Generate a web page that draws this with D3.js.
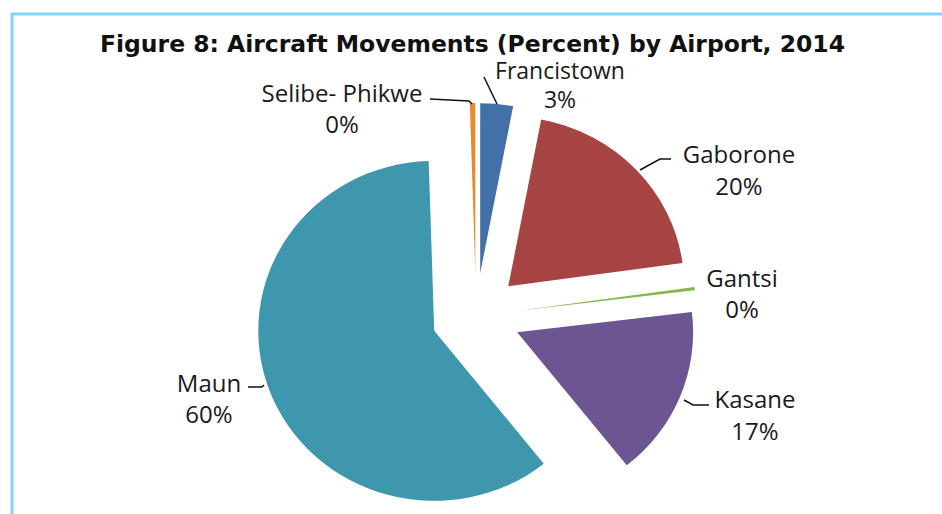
<!DOCTYPE html>
<html>
<head>
<meta charset="utf-8">
<script src="https://cdn.jsdelivr.net/npm/d3@7"></script>
<style>
  html, body { margin: 0; padding: 0; background: #fff; }
  svg { display: block; }
</style>
</head>
<body>
<svg id="chart" width="942" height="514"></svg>
<script>
// ---- data ----
const airports = ["Francistown", "Gaborone", "Gantsi", "Kasane", "Maun", "Selibe- Phikwe"];
const shares   = [3.0, 19.8, 0.3, 16.2, 60.2, 0.5];
const pctLabels = ["3%", "20%", "0%", "17%", "60%", "0%"];
const colors   = ["#4470aa", "#a54442", "#86b84a", "#6d5592", "#3e97ad", "#e98a2f"];
const title = "Figure 8: Aircraft Movements (Percent) by Airport, 2014";

// ---- layout (not data) ----
const W = 942, H = 514;
const cx = 476, cy = 316, R = 170, explode = 43, sx = 1.035;
const labelLayout = {
  "Francistown":    {x: 560, y: 79,  gap: 29, size: 23},
  "Gaborone":       {x: 739, y: 163, gap: 32, size: 24},
  "Gantsi":         {x: 742, y: 287, gap: 31, size: 24},
  "Kasane":         {x: 755, y: 408, gap: 32, size: 24},
  "Maun":           {x: 209, y: 392, gap: 31, size: 24},
  "Selibe- Phikwe": {x: 342, y: 102, gap: 31, size: 24}
};
const leaders = {
  "Francistown":    [[484, 77], [497, 104]],
  "Gaborone":       [[640, 170], [660, 159], [671, 159]],
  "Kasane":         [[684, 400], [693, 405], [709, 405]],
  "Maun":           [[248, 387], [262, 387], [264, 385]],
  "Selibe- Phikwe": [[430, 99], [469, 101], [472, 104]]
};

const svg = d3.select("#chart");
svg.append("rect").attr("width", W).attr("height", H).attr("fill", "#fff");

// frame
svg.append("path")
  .attr("d", `M12,${H} L12,14 L${W},14`)
  .attr("fill", "none").attr("stroke", "#7fd3f3").attr("stroke-width", 3);

// title
svg.append("text")
  .attr("x", 100).attr("y", 52)
  .attr("textLength", 745).attr("lengthAdjust", "spacingAndGlyphs")
  .attr("font-family", "'DejaVu Sans', sans-serif")
  .attr("font-weight", "bold").attr("font-size", 23)
  .attr("fill", "#111")
  .text(title);

// pie
const data = airports.map((a, i) => ({name: a, value: shares[i], pct: pctLabels[i], color: colors[i]}));
const pie = d3.pie().sort(null).value(d => d.value).startAngle(0).endAngle(2 * Math.PI);
const arc = d3.arc().innerRadius(0).outerRadius(R);
const arcs = pie(data);

const g = svg.append("g").attr("transform", `translate(${cx},${cy}) scale(${sx},1)`);
g.selectAll("path.slice")
  .data(arcs)
  .join("path")
  .attr("class", "slice")
  .attr("d", arc)
  .attr("fill", d => d.data.color)
  .attr("transform", d => {
    const mid = (d.startAngle + d.endAngle) / 2;
    return `translate(${Math.sin(mid) * explode},${-Math.cos(mid) * explode})`;
  });

// leader lines
const line = d3.line();
Object.entries(leaders).forEach(([k, pts]) => {
  svg.append("path").attr("d", line(pts))
    .attr("fill", "none").attr("stroke", "#111").attr("stroke-width", 1.5);
});

// labels
const lab = svg.append("g")
  .attr("font-family", "'Open Sans', sans-serif")
  .attr("fill", "#1a1a1a")
  .attr("text-anchor", "middle");
data.forEach(d => {
  const p = labelLayout[d.name];
  lab.append("text").attr("x", p.x).attr("y", p.y).attr("font-size", p.size).text(d.name);
  lab.append("text").attr("x", p.x).attr("y", p.y + p.gap).attr("font-size", p.size).text(d.pct);
});
</script>
</body>
</html>
